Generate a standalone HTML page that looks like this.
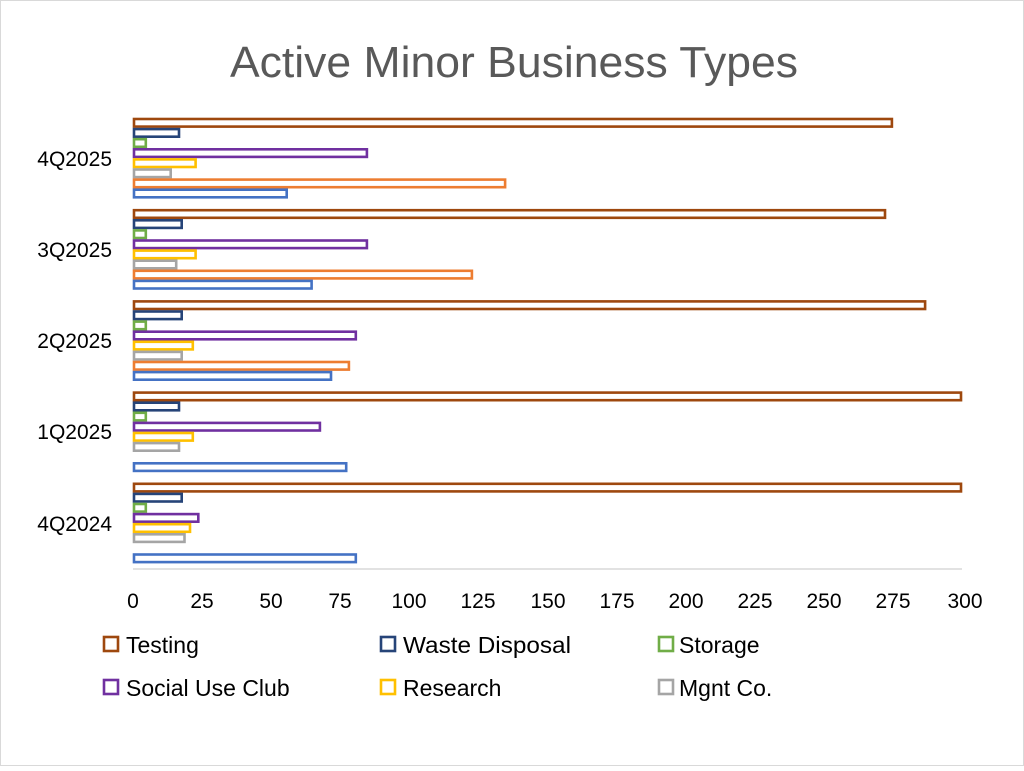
<!DOCTYPE html>
<html><head><style>body{margin:0;background:#fff}</style></head><body>
<svg width="1024" height="766" xmlns="http://www.w3.org/2000/svg" font-family="Liberation Sans, sans-serif">
<rect x="0.5" y="0.5" width="1023" height="765" fill="#fff" stroke="#d9d9d9"/>
<text x="514" y="77" text-anchor="middle" font-size="44" fill="#595959" textLength="568" lengthAdjust="spacingAndGlyphs">Active Minor Business Types</text>
<line x1="133" y1="569" x2="962" y2="569" stroke="#d9d9d9" stroke-width="1.5"/>
<g font-size="21" fill="#000" text-anchor="middle">
<text x="133" y="608">0</text><text x="202" y="608">25</text><text x="271" y="608">50</text><text x="340" y="608">75</text><text x="409" y="608">100</text><text x="478" y="608">125</text><text x="548" y="608">150</text><text x="617" y="608">175</text><text x="686" y="608">200</text><text x="755" y="608">225</text><text x="824" y="608">250</text><text x="893" y="608">275</text><text x="965" y="608">300</text>
</g>
<g font-size="21" fill="#000" text-anchor="end">
<text x="112" y="166">4Q2025</text><text x="112" y="257">3Q2025</text><text x="112" y="348">2Q2025</text><text x="112" y="439">1Q2025</text><text x="112" y="531">4Q2024</text>
</g>
<g fill="#fff" stroke-width="2.6" id="bars"></g>
<g font-size="23" fill="#000" stroke-width="2.6">
<rect x="104" y="637" width="14" height="14" fill="none" stroke="#9E480E"/><text x="126" y="653">Testing</text>
<rect x="381" y="637" width="14" height="14" fill="none" stroke="#264478"/><text x="403" y="653" textLength="168" lengthAdjust="spacingAndGlyphs">Waste Disposal</text>
<rect x="659" y="637" width="14" height="14" fill="none" stroke="#70AD47"/><text x="679" y="653">Storage</text>
<rect x="104" y="680" width="14" height="14" fill="none" stroke="#7030A0"/><text x="126" y="696">Social Use Club</text>
<rect x="381" y="680" width="14" height="14" fill="none" stroke="#FFC000"/><text x="403" y="696">Research</text>
<rect x="659" y="680" width="14" height="14" fill="none" stroke="#A5A5A5"/><text x="679" y="696">Mgnt Co.</text>
</g>
</svg>
<script>
const cols=["#9E480E","#264478","#70AD47","#7030A0","#FFC000","#A5A5A5","#ED7D31","#4472C4"];
const data=[[275,17,5,85,23,14,135,56],[272.5,18,5,85,23,16,123,65],[287,18,5,81,22,18,78.5,72],[300,17,5,68,22,17,0,77.5],[300,18,5,24,21,19,0,81]];
const g=document.getElementById("bars");let s="";
data.forEach((d,gi)=>{d.forEach((v,i)=>{if(!v)return;const y=119+gi*91.2+i*10.1;const w=v*829/300;
s+=`<rect x="134" y="${y.toFixed(1)}" width="${(w-2).toFixed(1)}" height="7.6" fill="#fff" stroke="${cols[i]}" stroke-width="2.6"/>`;});});
g.innerHTML=s;
</script>
</body></html>
